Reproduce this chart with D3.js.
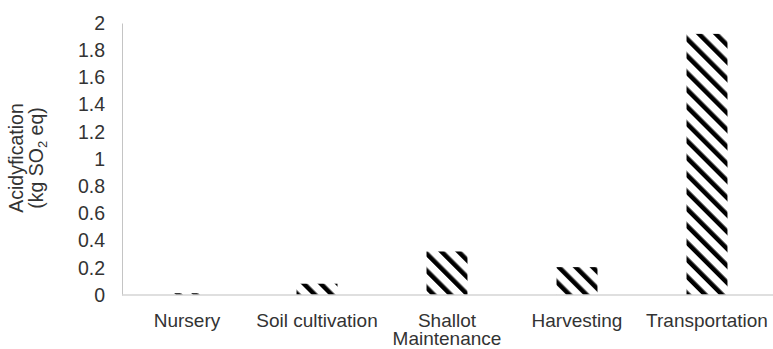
<!DOCTYPE html>
<html>
<head>
<meta charset="utf-8">
<script src="https://cdn.jsdelivr.net/npm/d3@7/dist/d3.min.js"></script>
<style>
  html, body { margin: 0; padding: 0; background: #fff; }
  svg { display: block; }
  text { font-family: "Liberation Sans", Arial, sans-serif; }
</style>
</head>
<body>
<svg id="chart" width="773" height="349"></svg>
<script>
// Acidification impact per production stage
const categories = ["Nursery", "Soil cultivation", "Shallot Maintenance", "Harvesting", "Transportation"];
const acidification = [0.013, 0.083, 0.32, 0.205, 1.92];
const yTicks = [0, 0.2, 0.4, 0.6, 0.8, 1, 1.2, 1.4, 1.6, 1.8, 2];
const yTitleLine1 = "Acidyfication";

const svg = d3.select("#chart");
const W = 773, H = 349;
const plot = { left: 122, right: 772, top: 23, bottom: 295 };
const textColor = "#333333";
const fontSize = 19.5;
const labelSize = 19;

// Diagonal hatch fill (wide downward diagonal)
const defs = svg.append("defs");
const pat = defs.append("pattern")
  .attr("id", "hatch")
  .attr("patternUnits", "userSpaceOnUse")
  .attr("width", 12)
  .attr("height", 12)
  .attr("patternTransform", "rotate(-45)");
pat.append("rect").attr("width", 12).attr("height", 12).attr("fill", "#fff");
pat.append("rect").attr("x", 0).attr("y", 0).attr("width", 4.6).attr("height", 12).attr("fill", "#000");

const x = d3.scaleBand()
  .domain(categories)
  .range([plot.left, plot.right])
  .paddingInner(0.685)
  .paddingOuter(0.3425);

const y = d3.scaleLinear()
  .domain([0, 2])
  .range([plot.bottom, plot.top]);

// Bars
svg.append("g")
  .selectAll("rect")
  .data(categories.map((c, i) => ({ c, v: acidification[i] })))
  .join("rect")
  .attr("x", d => x(d.c))
  .attr("y", d => y(d.v))
  .attr("width", x.bandwidth())
  .attr("height", d => y(0) - y(d.v))
  .attr("fill", "url(#hatch)");

// Value axis
const yAxis = svg.append("g")
  .attr("transform", `translate(${plot.left},0)`)
  .call(d3.axisLeft(y).tickValues(yTicks).tickSize(0).tickPadding(17).tickFormat(d3.format("~g")));
yAxis.select(".domain").attr("stroke", "#c4c4c4").attr("stroke-width", 1);
yAxis.selectAll("text")
  .attr("font-size", fontSize)
  .attr("fill", textColor)
  .attr("font-family", "Liberation Sans, Arial, sans-serif");

// Category axis
const xAxis = svg.append("g")
  .attr("transform", `translate(0,${plot.bottom})`)
  .call(d3.axisBottom(x).tickSize(0).tickFormat(""));
xAxis.select(".domain")
  .attr("d", `M${plot.left},0H${W}`)
  .attr("stroke", "#d4d4d4")
  .attr("stroke-width", 1.6);

// Category labels, wrapped to the band step
const labels = svg.append("g");
categories.forEach(c => {
  const cx = x(c) + x.bandwidth() / 2;
  const t = labels.append("text")
    .attr("x", cx)
    .attr("y", plot.bottom + 32)
    .attr("text-anchor", "middle")
    .attr("font-size", labelSize)
    .attr("fill", textColor);
  const words = c.split(" ");
  let line = [];
  let tspan = t.append("tspan").attr("x", cx).attr("dy", 0);
  words.forEach(w => {
    line.push(w);
    tspan.text(line.join(" "));
    if (tspan.node().getComputedTextLength() > x.step() && line.length > 1) {
      line.pop();
      tspan.text(line.join(" "));
      line = [w];
      tspan = t.append("tspan").attr("x", cx).attr("dy", 18).text(w);
    }
  });
});

// Axis title (two lines, rotated)
const cy = 158;
const title = svg.append("g").attr("fill", textColor).attr("font-size", fontSize);
title.append("text")
  .attr("transform", `translate(23,${cy}) rotate(-90)`)
  .attr("text-anchor", "middle")
  .text(yTitleLine1);
const t2 = title.append("text")
  .attr("transform", `translate(43,${cy}) rotate(-90)`)
  .attr("text-anchor", "middle");
t2.append("tspan").text("(kg SO");
t2.append("tspan").attr("font-size", 13).attr("dy", 4).text("2");
t2.append("tspan").attr("dy", -4).text(" eq)");
</script>
</body>
</html>
